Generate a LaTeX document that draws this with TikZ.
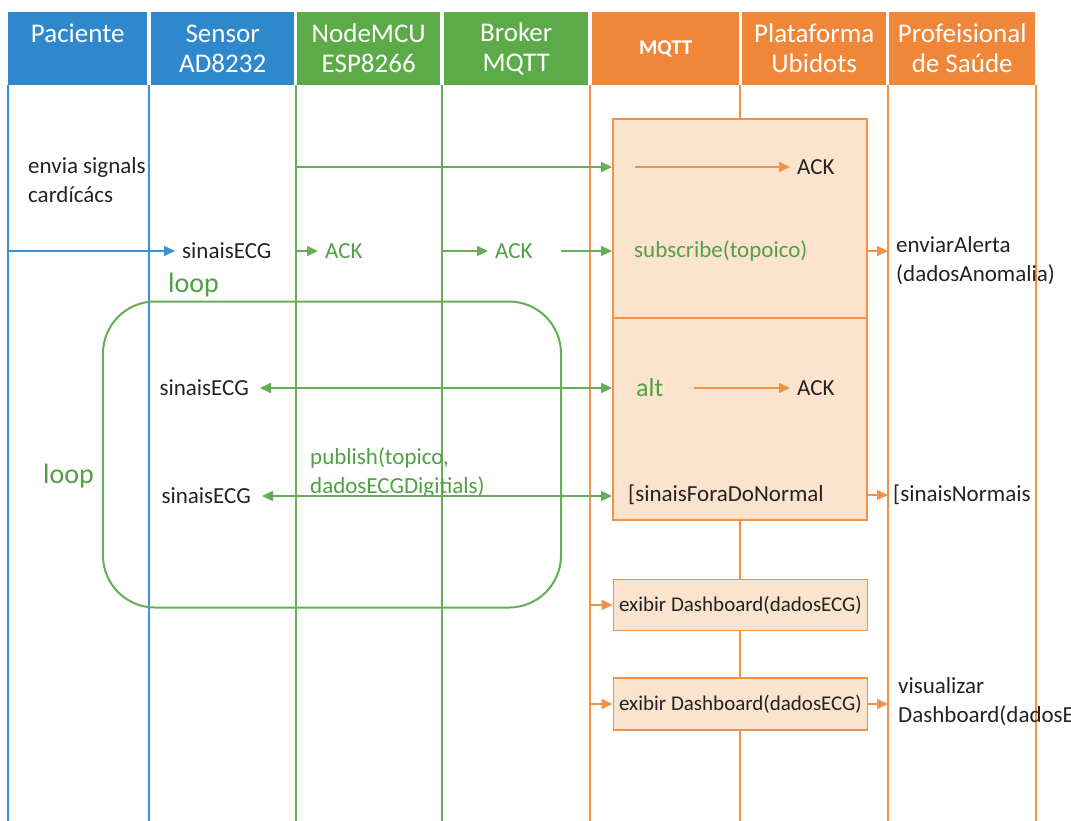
\documentclass[tikz,border=0pt]{standalone}
\usepackage{fontspec}
\setmainfont{Carlito}
\usetikzlibrary{arrows.meta}
\definecolor{blueH}{RGB}{48,136,204}
\definecolor{greenH}{RGB}{92,170,72}
\definecolor{orangeH}{RGB}{240,134,56}
\definecolor{blueL}{RGB}{60,145,215}
\definecolor{greenL}{RGB}{100,175,85}
\definecolor{orangeL}{RGB}{241,146,72}
\definecolor{boxfill}{RGB}{252,227,206}
\definecolor{gtext}{RGB}{80,160,68}
\definecolor{ink}{RGB}{35,35,35}
\newcommand\hfont{\fontsize{27}{30}\selectfont}
\newcommand\bfont{\fontsize{23}{29}\selectfont}
\newcommand\sfont{\fontsize{21}{25}\selectfont}
\newcommand\lfont{\fontsize{28}{32}\selectfont}
\newcommand\afont{\fontsize{26}{30}\selectfont}
\begin{document}
\begin{tikzpicture}[x=1pt,y=-1pt,
  hdr/.style={anchor=north west, minimum height=73pt, inner sep=0pt, text=white, font=\hfont, align=center},
  life/.style={line width=1.5pt},
  txt/.style={font=\bfont, text=ink, inner xsep=7pt, inner ysep=2pt, anchor=west},
  obox/.style={draw=orangeL, fill=boxfill, line width=1.8pt, inner sep=2pt, text=ink},
  garr/.style={draw=greenL, line width=1.6pt, -{Triangle[length=11pt,width=10pt]}},
  oarr/.style={draw=orangeL, line width=1.6pt, -{Triangle[length=11pt,width=10pt]}},
  barr/.style={draw=blueL, line width=1.6pt, -{Triangle[length=11pt,width=10pt]}},
  gdarr/.style={draw=greenL, line width=1.6pt, {Triangle[length=11pt,width=10pt]}-{Triangle[length=11pt,width=10pt]}}
]
\clip (0,0) rectangle (1071,821);
\fill[white] (0,0) rectangle (1071,821);

% headers
\node[hdr, fill=blueH, minimum width=139pt] (hP) at (8,12) {Paciente\\\mbox{}};
\node[hdr, fill=blueH, minimum width=143pt] (hS) at (151,12) {Sensor\\AD8232};
\node[hdr, fill=greenH, minimum width=143pt] (hN) at (297,12) {NodeMCU\\ESP8266};
\node[hdr, fill=greenH, minimum width=144pt] (hB) at (444,12) {Broker\\MQTT};
\node[hdr, fill=orangeH, minimum width=147pt, font=\fontsize{21}{25}\selectfont\bfseries] (hM) at (592,12) {MQTT};
\node[hdr, fill=orangeH, minimum width=144pt] (hPl) at (742,12) {Plataforma\\Ubidots};
\node[hdr, fill=orangeH, minimum width=146pt] (hPr) at (889,12) {Profeisional\\de Saúde};

% lifelines
\coordinate (L1) at (8,85);
\coordinate (L2) at (149,85);
\coordinate (L3) at (296,85);
\coordinate (L4) at (442,85);
\coordinate (L5) at (590,85);
\coordinate (L6) at (740,85);
\coordinate (L7) at (888,85);
\coordinate (L8) at (1036,85);
\coordinate (bot) at (0,821);
\draw[life, blueL] (L1) -- (L1 |- bot);
\draw[life, blueL] (L2) -- (L2 |- bot);
\draw[life, greenL] (L3) -- (L3 |- bot);
\draw[life, greenL] (L4) -- (L4 |- bot);
\draw[life, orangeL] (L5) -- (L5 |- bot);
\draw[life, orangeL] (L6) -- (L6 |- bot);
\draw[life, orangeL] (L7) -- (L7 |- bot);
\draw[life, orangeL] (L8) -- (L8 |- bot);

% big box
\node[obox, minimum width=254pt, minimum height=401pt] (bigbox) at (740,319.5) {};
\coordinate (divy) at (740,318);
\draw[orangeL, line width=1.8pt] (bigbox.west |- divy) -- (bigbox.east |- divy);

% loop frame
\node[draw=greenL, line width=2pt, rounded corners=52pt, minimum width=458pt, minimum height=306pt, inner sep=0pt] (loopbox) at (332,454.5) {};
\node[txt, font=\lfont, text=gtext] (loopA) at (161,285) {loop};
\node[txt, font=\lfont, text=gtext] (loopB) at (36,476) {loop};

% row 1
\node[txt, align=left] (envia) at (21,180) {envia signals\\cardícács};
\node[txt] (ackT) at (790,167) {ACK};
\coordinate (oT) at (635,167);
\draw[garr] (L3 |- ackT) -- (bigbox.west |- ackT);
\draw[oarr] (oT) -- (ackT.west);

% row 2
\node[txt] (sinA) at (175,251) {sinaisECG};
\node[txt, text=gtext] (ackA) at (318,251) {ACK};
\node[txt, text=gtext] (ackB) at (488,251) {ACK};
\node[txt, text=gtext] (subs) at (627,251) {subscribe(topoico)};
\coordinate (sB) at (561,251);
\draw[barr] (L1 |- sinA) -- (sinA.west);
\draw[garr] (L3 |- ackA) -- (ackA.west);
\draw[garr] (L4 |- ackB) -- (ackB.west);
\draw[garr] (sB) -- (bigbox.west |- subs);
\draw[oarr] (bigbox.east |- subs) -- (L7 |- subs);
\node[txt, align=left] (alerta) at (889,261) {enviarAlerta\\(dadosAnomalia)};

% row 3
\node[txt, anchor=east, inner xsep=11pt] (sinB) at (260,388) {sinaisECG};
\node[txt, text=gtext, font=\afont] (alt) at (629,388) {alt};
\node[txt] (ackC) at (790,388) {ACK};
\draw[gdarr] (sinB.east) -- (bigbox.west |- sinB);
\draw[oarr, shorten <=23pt] (alt.east) -- (ackC.west);

% row 4
\node[txt, anchor=east, inner xsep=11pt] (sinC) at (262,496) {sinaisECG};
\node[txt, text=gtext, align=left] (pub) at (303,473) {publish(topico,\\dadosECGDigitials)};
\node[txt] (fora) at (621,495) {[sinaisForaDoNormal};
\node[txt] (norm) at (886,495) {[sinaisNormais};
\draw[gdarr] (sinC.east) -- (bigbox.west |- sinC);
\draw[oarr] (bigbox.east |- fora) -- (L7 |- fora);

% dashboards
\node[obox, minimum width=254pt, minimum height=51pt, font=\sfont] (dash1) at (740.5,605) {exibir Dashboard(dadosECG)};
\node[obox, minimum width=254pt, minimum height=52pt, font=\sfont] (dash2) at (740.5,704) {exibir Dashboard(dadosECG)};
\draw[oarr] (L5 |- dash1) -- (dash1.west);
\draw[oarr] (L5 |- dash2) -- (dash2.west);
\draw[oarr] (dash2.east) -- (L7 |- dash2);
\node[txt, align=left] (vis) at (891,702) {visualizar\\Dashboard(dadosECG)};
\end{tikzpicture}
\end{document}
